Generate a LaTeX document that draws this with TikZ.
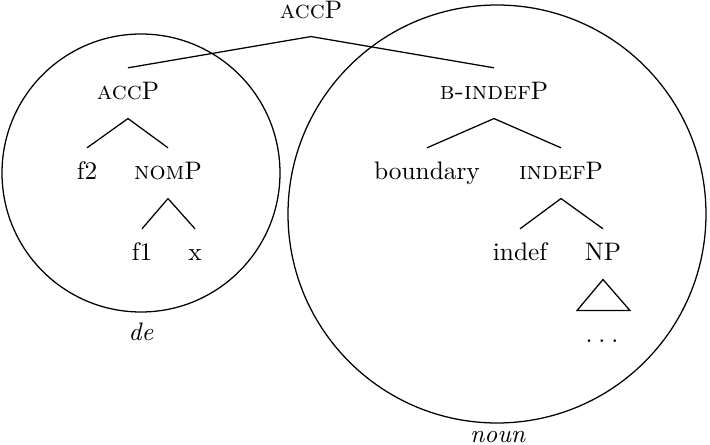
\documentclass[tikz,border=0pt]{standalone}
\usepackage{amsmath}
\usepackage{tikz}
\usetikzlibrary{positioning}

\begin{document}
\begin{tikzpicture}[x=0.395pt,y=-0.395pt,line width=0.5pt]
        \tikzstyle{cat}=[anchor=base,inner sep=6pt,text height=1.5ex,text depth=.25ex]
        \tikzstyle{phase}=[draw]
        \useasboundingbox (0,0) rectangle (710,445);
        % phases
        \draw[phase] (141,173) circle[radius=139];
        \draw[phase] (497,214) circle[radius=209];
        \node[anchor=base] (de) at (141,341) {\textit{de}};
        \node[anchor=base] (noun) at (498,443) {\textit{noun}};
        % top
        \node[cat] (Top) at (311,18) {\textsc{acc}P};
        % left tree
        \node[cat] (Acc) at (128,100) {\textsc{acc}P};
        \node[cat] (Ftwo) at (87,180) {f2};
        \node[cat] (Nom) at (168,180) {\textsc{nom}P};
        \node[cat] (Fone) at (142,261) {f1};
        \node[cat] (X) at (195,261) {x};
        % right tree
        \node[cat] (Bindef) at (494,100) {\textsc{b-indef}P};
        \node[cat] (Bound) at (427,180) {boundary};
        \node[cat] (Indef) at (561,180) {\textsc{indef}P};
        \node[cat] (Ind) at (520,261) {indef};
        \node[cat] (NP) at (603,261) {NP};
        \node[anchor=base] (Dots) at (602,343) {.\hspace{2.3pt}.\hspace{2.3pt}.};
        \path[draw]
        (Top.south) -- (Acc.north)
        (Top.south) -- (Bindef.north)
        (Acc.south) -- (Ftwo.north)
        (Acc.south) -- (Nom.north)
        (Nom.south) -- (Fone.north)
        (Nom.south) -- (X.north)
        (Bindef.south) -- (Bound.north)
        (Bindef.south) -- (Indef.north)
        (Indef.south) -- (Ind.north)
        (Indef.south) -- (NP.north);
        \draw (NP.south) -- ++(-26,31) -- ++(53,0) -- cycle;
    \end{tikzpicture}
\end{document}
